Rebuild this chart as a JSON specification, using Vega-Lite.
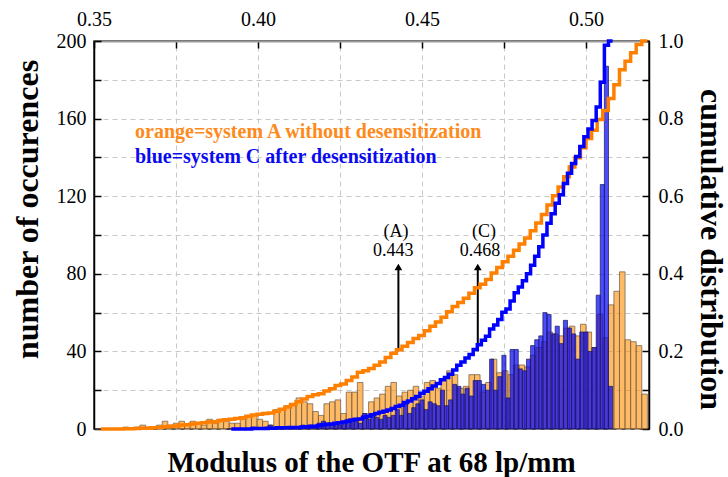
{
  "$schema": "https://vega.github.io/schema/vega-lite/v6.json",
  "width": 555,
  "height": 388,
  "autosize": "none",
  "padding": {"left": 94, "top": 41, "right": 79, "bottom": 48},
  "config": {
    "view": {"stroke": "#222", "strokeWidth": 1.5},
    "font": "Liberation Serif",
    "axis": {
      "labelFont": "Liberation Serif", "labelFontSize": 20, "labelColor": "#000",
      "titleFont": "Liberation Serif", "titleFontSize": 32, "titleFontWeight": "bold", "titleColor": "#000",
      "tickColor": "#000", "tickWidth": 1.5, "domainColor": "#000", "domainWidth": 1.5,
      "gridColor": "#c8c8c8", "gridDash": [5, 4], "gridWidth": 1
    }
  },
  "title": {"text": "Modulus of the OTF at 68 lp/mm", "orient": "bottom", "frame": "group", "anchor": "middle", "font": "Liberation Serif", "fontSize": 29, "fontWeight": "bold", "color": "#000", "offset": 10},
  "datasets": {
    "orange": [
      {"x":0.3504,"x1":0.3521,"y":0,"c":0},{"x":0.3521,"x1":0.3538,"y":0,"c":0},{"x":0.3538,"x1":0.3555,"y":0,"c":0},{"x":0.3555,"x1":0.3572,"y":0,"c":0},{"x":0.3572,"x1":0.3589,"y":0,"c":0},
      {"x":0.3589,"x1":0.3606,"y":1,"c":0.0005},{"x":0.3606,"x1":0.3623,"y":0,"c":0.0005},{"x":0.3623,"x1":0.364,"y":1,"c":0.001},{"x":0.364,"x1":0.3657,"y":2,"c":0.002},{"x":0.3657,"x1":0.3674,"y":1,"c":0.002},
      {"x":0.3674,"x1":0.3691,"y":1,"c":0.003},{"x":0.3691,"x1":0.3708,"y":2,"c":0.004},{"x":0.3708,"x1":0.3725,"y":4,"c":0.006},{"x":0.3725,"x1":0.3742,"y":2,"c":0.007},{"x":0.3742,"x1":0.3759,"y":3,"c":0.008},
      {"x":0.3759,"x1":0.3776,"y":4,"c":0.010},{"x":0.3776,"x1":0.3793,"y":2,"c":0.011},{"x":0.3793,"x1":0.381,"y":4,"c":0.013},{"x":0.381,"x1":0.3827,"y":3,"c":0.015},{"x":0.3827,"x1":0.3844,"y":2,"c":0.016},
      {"x":0.3844,"x1":0.3861,"y":5,"c":0.018},{"x":0.3861,"x1":0.3878,"y":3,"c":0.019},{"x":0.3878,"x1":0.3895,"y":5,"c":0.022},{"x":0.3895,"x1":0.3912,"y":4,"c":0.024},{"x":0.3912,"x1":0.3929,"y":3,"c":0.025},
      {"x":0.3929,"x1":0.3946,"y":3,"c":0.027},{"x":0.3946,"x1":0.3963,"y":5,"c":0.029},{"x":0.3963,"x1":0.398,"y":7,"c":0.033},{"x":0.398,"x1":0.3997,"y":7,"c":0.036},{"x":0.3997,"x1":0.4014,"y":5,"c":0.038},
      {"x":0.4014,"x1":0.4031,"y":4,"c":0.040},{"x":0.4031,"x1":0.4048,"y":2,"c":0.041},{"x":0.4048,"x1":0.4065,"y":10,"c":0.046},{"x":0.4065,"x1":0.4082,"y":10,"c":0.051},{"x":0.4082,"x1":0.4099,"y":12,"c":0.057},
      {"x":0.4099,"x1":0.4116,"y":12,"c":0.063},{"x":0.4116,"x1":0.4133,"y":16,"c":0.070},{"x":0.4133,"x1":0.415,"y":14,"c":0.077},{"x":0.415,"x1":0.4167,"y":13,"c":0.084},{"x":0.4167,"x1":0.4184,"y":9,"c":0.088},
      {"x":0.4184,"x1":0.4201,"y":7,"c":0.091},{"x":0.4201,"x1":0.4218,"y":13,"c":0.098},{"x":0.4218,"x1":0.4235,"y":14,"c":0.104},{"x":0.4235,"x1":0.4252,"y":15,"c":0.112},{"x":0.4252,"x1":0.4269,"y":8,"c":0.116},
      {"x":0.4269,"x1":0.4286,"y":19,"c":0.125},{"x":0.4286,"x1":0.4303,"y":19,"c":0.134},{"x":0.4303,"x1":0.432,"y":24,"c":0.146},{"x":0.432,"x1":0.4337,"y":8,"c":0.150},{"x":0.4337,"x1":0.4354,"y":14,"c":0.156},
      {"x":0.4354,"x1":0.4371,"y":16,"c":0.164},{"x":0.4371,"x1":0.4388,"y":18,"c":0.173},{"x":0.4388,"x1":0.4405,"y":22,"c":0.184},{"x":0.4405,"x1":0.4422,"y":24,"c":0.195},{"x":0.4422,"x1":0.4439,"y":17,"c":0.204},
      {"x":0.4439,"x1":0.4456,"y":19,"c":0.213},{"x":0.4456,"x1":0.4473,"y":20,"c":0.223},{"x":0.4473,"x1":0.449,"y":22,"c":0.233},{"x":0.449,"x1":0.4507,"y":17,"c":0.241},{"x":0.4507,"x1":0.4524,"y":24,"c":0.253},
      {"x":0.4524,"x1":0.4541,"y":25,"c":0.265},{"x":0.4541,"x1":0.4558,"y":21,"c":0.276},{"x":0.4558,"x1":0.4575,"y":25,"c":0.288},{"x":0.4575,"x1":0.4592,"y":30,"c":0.302},{"x":0.4592,"x1":0.4609,"y":28,"c":0.316},
      {"x":0.4609,"x1":0.4626,"y":21,"c":0.326},{"x":0.4626,"x1":0.4643,"y":22,"c":0.337},{"x":0.4643,"x1":0.466,"y":28,"c":0.350},{"x":0.466,"x1":0.4677,"y":28,"c":0.364},{"x":0.4677,"x1":0.4694,"y":19,"c":0.373},
      {"x":0.4694,"x1":0.4711,"y":24,"c":0.385},{"x":0.4711,"x1":0.4728,"y":36,"c":0.402},{"x":0.4728,"x1":0.4745,"y":29,"c":0.416},{"x":0.4745,"x1":0.4762,"y":30,"c":0.431},{"x":0.4762,"x1":0.4779,"y":28,"c":0.445},
      {"x":0.4779,"x1":0.4796,"y":33,"c":0.461},{"x":0.4796,"x1":0.4813,"y":33,"c":0.477},{"x":0.4813,"x1":0.483,"y":32,"c":0.492},{"x":0.483,"x1":0.4847,"y":38,"c":0.511},{"x":0.4847,"x1":0.4864,"y":42,"c":0.531},
      {"x":0.4864,"x1":0.4881,"y":45,"c":0.553},{"x":0.4881,"x1":0.4898,"y":50,"c":0.577},{"x":0.4898,"x1":0.4915,"y":49,"c":0.601},{"x":0.4915,"x1":0.4932,"y":48,"c":0.624},{"x":0.4932,"x1":0.4949,"y":52,"c":0.650},
      {"x":0.4949,"x1":0.4966,"y":53,"c":0.675},{"x":0.4966,"x1":0.4983,"y":48,"c":0.699},{"x":0.4983,"x1":0.5,"y":54,"c":0.725},{"x":0.5,"x1":0.5017,"y":50,"c":0.749},{"x":0.5017,"x1":0.5034,"y":42,"c":0.770},
      {"x":0.5034,"x1":0.5051,"y":59,"c":0.798},{"x":0.5051,"x1":0.5068,"y":47,"c":0.821},{"x":0.5068,"x1":0.5085,"y":64,"c":0.852},{"x":0.5085,"x1":0.5102,"y":71,"c":0.887},{"x":0.5102,"x1":0.5119,"y":81,"c":0.926},
      {"x":0.5119,"x1":0.5136,"y":46,"c":0.948},{"x":0.5136,"x1":0.5153,"y":45,"c":0.970},{"x":0.5153,"x1":0.517,"y":43,"c":0.991},{"x":0.517,"x1":0.5187,"y":18,"c":1.0}
    ],
    "blue": [
      {"x":0.3906,"x1":0.39185,"y":0,"c":0},{"x":0.39185,"x1":0.3931,"y":0,"c":0},{"x":0.3931,"x1":0.39435,"y":0,"c":0},{"x":0.39435,"x1":0.3956,"y":0,"c":0},{"x":0.3956,"x1":0.39685,"y":0,"c":0},
      {"x":0.39685,"x1":0.3981,"y":0,"c":0},{"x":0.3981,"x1":0.39935,"y":1,"c":0.001},{"x":0.39935,"x1":0.4006,"y":0,"c":0.001},{"x":0.4006,"x1":0.40185,"y":0,"c":0.001},{"x":0.40185,"x1":0.4031,"y":1,"c":0.001},
      {"x":0.4031,"x1":0.40435,"y":2,"c":0.002},{"x":0.40435,"x1":0.4056,"y":0,"c":0.002},{"x":0.4056,"x1":0.40685,"y":1,"c":0.003},{"x":0.40685,"x1":0.4081,"y":0,"c":0.003},{"x":0.4081,"x1":0.40935,"y":1,"c":0.003},
      {"x":0.40935,"x1":0.4106,"y":1,"c":0.004},{"x":0.4106,"x1":0.41185,"y":0,"c":0.004},{"x":0.41185,"x1":0.4131,"y":1,"c":0.004},{"x":0.4131,"x1":0.41435,"y":2,"c":0.005},{"x":0.41435,"x1":0.4156,"y":1,"c":0.006},
      {"x":0.4156,"x1":0.41685,"y":2,"c":0.007},{"x":0.41685,"x1":0.4181,"y":1,"c":0.007},{"x":0.4181,"x1":0.41935,"y":3,"c":0.009},{"x":0.41935,"x1":0.4206,"y":4,"c":0.011},{"x":0.4206,"x1":0.42185,"y":3,"c":0.012},
      {"x":0.42185,"x1":0.4231,"y":2,"c":0.013},{"x":0.4231,"x1":0.42435,"y":3,"c":0.015},{"x":0.42435,"x1":0.4256,"y":2,"c":0.016},{"x":0.4256,"x1":0.42685,"y":4,"c":0.018},{"x":0.42685,"x1":0.4281,"y":5,"c":0.020},
      {"x":0.4281,"x1":0.42935,"y":5,"c":0.023},{"x":0.42935,"x1":0.4306,"y":4,"c":0.025},{"x":0.4306,"x1":0.43185,"y":3,"c":0.026},{"x":0.43185,"x1":0.4331,"y":8,"c":0.030},{"x":0.4331,"x1":0.43435,"y":5,"c":0.033},
      {"x":0.43435,"x1":0.4356,"y":8,"c":0.037},{"x":0.4356,"x1":0.43685,"y":6,"c":0.040},{"x":0.43685,"x1":0.4381,"y":5,"c":0.043},{"x":0.4381,"x1":0.43935,"y":7,"c":0.046},{"x":0.43935,"x1":0.4406,"y":6,"c":0.049},
      {"x":0.4406,"x1":0.44185,"y":7,"c":0.053},{"x":0.44185,"x1":0.4431,"y":10,"c":0.058},{"x":0.4431,"x1":0.44435,"y":7,"c":0.061},{"x":0.44435,"x1":0.4456,"y":13,"c":0.068},{"x":0.4456,"x1":0.44685,"y":8,"c":0.072},
      {"x":0.44685,"x1":0.4481,"y":11,"c":0.078},{"x":0.4481,"x1":0.44935,"y":13,"c":0.084},{"x":0.44935,"x1":0.4506,"y":15,"c":0.092},{"x":0.4506,"x1":0.45185,"y":10,"c":0.097},{"x":0.45185,"x1":0.4531,"y":14,"c":0.104},
      {"x":0.4531,"x1":0.45435,"y":13,"c":0.111},{"x":0.45435,"x1":0.4556,"y":12,"c":0.117},{"x":0.4556,"x1":0.45685,"y":20,"c":0.127},{"x":0.45685,"x1":0.4581,"y":12,"c":0.133},{"x":0.4581,"x1":0.45935,"y":15,"c":0.141},
      {"x":0.45935,"x1":0.4606,"y":23,"c":0.152},{"x":0.4606,"x1":0.46185,"y":22,"c":0.164},{"x":0.46185,"x1":0.4631,"y":18,"c":0.173},{"x":0.4631,"x1":0.46435,"y":21,"c":0.183},{"x":0.46435,"x1":0.4656,"y":17,"c":0.192},
      {"x":0.4656,"x1":0.46685,"y":25,"c":0.205},{"x":0.46685,"x1":0.4681,"y":25,"c":0.217},{"x":0.4681,"x1":0.46935,"y":23,"c":0.229},{"x":0.46935,"x1":0.4706,"y":20,"c":0.239},{"x":0.4706,"x1":0.47185,"y":36,"c":0.258},
      {"x":0.47185,"x1":0.4731,"y":20,"c":0.268},{"x":0.4731,"x1":0.47435,"y":27,"c":0.282},{"x":0.47435,"x1":0.4756,"y":38,"c":0.301},{"x":0.4756,"x1":0.47685,"y":16,"c":0.309},{"x":0.47685,"x1":0.4781,"y":41,"c":0.330},
      {"x":0.4781,"x1":0.47935,"y":41,"c":0.351},{"x":0.47935,"x1":0.4806,"y":31,"c":0.366},{"x":0.4806,"x1":0.48185,"y":30,"c":0.382},{"x":0.48185,"x1":0.4831,"y":36,"c":0.400},{"x":0.4831,"x1":0.48435,"y":43,"c":0.422},
      {"x":0.48435,"x1":0.4856,"y":46,"c":0.445},{"x":0.4856,"x1":0.48685,"y":48,"c":0.470},{"x":0.48685,"x1":0.4881,"y":60,"c":0.500},{"x":0.4881,"x1":0.48935,"y":59,"c":0.530},{"x":0.48935,"x1":0.4906,"y":49,"c":0.555},
      {"x":0.4906,"x1":0.49185,"y":53,"c":0.582},{"x":0.49185,"x1":0.4931,"y":44,"c":0.604},{"x":0.4931,"x1":0.49435,"y":56,"c":0.633},{"x":0.49435,"x1":0.4956,"y":52,"c":0.659},{"x":0.4956,"x1":0.49685,"y":49,"c":0.684},
      {"x":0.49685,"x1":0.4981,"y":36,"c":0.702},{"x":0.4981,"x1":0.49935,"y":50,"c":0.728},{"x":0.49935,"x1":0.5006,"y":50,"c":0.753},{"x":0.5006,"x1":0.50185,"y":40,"c":0.773},{"x":0.50185,"x1":0.5031,"y":42,"c":0.795},
      {"x":0.5031,"x1":0.50435,"y":69,"c":0.830},{"x":0.50435,"x1":0.5056,"y":126,"c":0.894},{"x":0.5056,"x1":0.50685,"y":187,"c":0.989},{"x":0.50685,"x1":0.5081,"y":22,"c":1.0}
    ],
    "notes": [
      {"t":"orange=system A without desensitization","x":0.3625,"y":153.2,"g":"A"},
      {"t":"blue=system C after desensitization","x":0.3625,"y":140.4,"g":"C"}
    ],
    "labels": [
      {"t":"(A)","x":0.4421,"y":101.6},
      {"t":"0.443","x":0.4412,"y":91.5},
      {"t":"(C)","x":0.4689,"y":101.6},
      {"t":"0.468","x":0.4677,"y":91.5}
    ],
    "arrows": [
      {"x":0.4428,"y":40,"y1":83.5},
      {"x":0.4670,"y":40,"y1":83.5}
    ],
    "heads": [
      {"x":0.4428,"y":83.5},
      {"x":0.4670,"y":83.5}
    ]
  },
  "layer": [
    {
      "encoding": {
        "x": {"field": "x", "type": "quantitative", "scale": {"domain": [0.35, 0.5192], "nice": false, "zero": false},
          "axis": {"orient": "top", "values": [0.35, 0.375, 0.4, 0.425, 0.45, 0.475, 0.5], "labelExpr": "round(datum.value*1000) % 50 == 0 ? format(datum.value, '.2f') : ''", "grid": true, "tickSize": -7, "labelPadding": 19, "title": null, "domainColor": "#999", "domainWidth": 2, "labelFlush": false}},
        "y": {"field": "y", "type": "quantitative", "scale": {"domain": [0, 200], "nice": false},
          "axis": {"orient": "left", "values": [0, 20, 40, 60, 80, 100, 120, 140, 160, 180, 200], "labelExpr": "datum.value % 40 == 0 ? datum.label : ''", "grid": true, "tickSize": -7, "labelPadding": 15, "title": "number of occurences", "titleX": -67, "titleY": 168, "titleAngle": -90, "titleBaseline": "middle", "titleAlign": "center"}}
      },
      "layer": [
        {
          "data": {"name": "orange"},
          "mark": {"type": "bar", "fill": "#FF8C00", "fillOpacity": 0.6, "stroke": "#6e5a48", "strokeWidth": 0.9, "strokeOpacity": 0.8},
          "encoding": {"x2": {"field": "x1"}, "y2": {"datum": 0}}
        },
        {
          "data": {"name": "blue"},
          "mark": {"type": "bar", "fill": "#0000FF", "fillOpacity": 0.7, "stroke": "#1a1a55", "strokeWidth": 0.9, "strokeOpacity": 0.8},
          "encoding": {"x2": {"field": "x1"}, "y2": {"datum": 0}}
        },
        {
          "data": {"name": "notes"},
          "mark": {"type": "text", "align": "left", "baseline": "middle", "font": "Liberation Serif", "fontSize": 20, "fontWeight": "bold"},
          "encoding": {
            "text": {"field": "t"},
            "color": {"field": "g", "type": "nominal", "scale": {"domain": ["A", "C"], "range": ["#FF8A1C", "#0A0AF0"]}, "legend": null}
          }
        },
        {
          "data": {"name": "labels"},
          "mark": {"type": "text", "align": "center", "baseline": "middle", "font": "Liberation Serif", "fontSize": 18, "color": "#000"},
          "encoding": {"text": {"field": "t"}}
        },
        {
          "data": {"name": "arrows"},
          "mark": {"type": "rule", "color": "#000", "strokeWidth": 2},
          "encoding": {"y2": {"field": "y1"}}
        },
        {
          "data": {"name": "heads"},
          "mark": {"type": "point", "shape": "triangle-up", "filled": true, "color": "#000", "size": 60, "opacity": 1}
        }
      ]
    },
    {
      "encoding": {
        "x": {"field": "x1", "type": "quantitative",
          "axis": {"orient": "top", "values": [0.35, 0.375, 0.4, 0.425, 0.45, 0.475, 0.5], "labelExpr": "round(datum.value*1000) % 50 == 0 ? format(datum.value, '.2f') : ''", "grid": true, "tickSize": -7, "labelPadding": 19, "title": null, "domainColor": "#999", "domainWidth": 2, "labelFlush": false}},
        "y": {"field": "c", "type": "quantitative", "scale": {"domain": [0, 1], "nice": false},
          "axis": {"orient": "right", "values": [0, 0.1, 0.2, 0.3, 0.4, 0.5, 0.6, 0.7, 0.8, 0.9, 1.0], "labelExpr": "round(datum.value*10) % 2 == 0 ? format(datum.value, '.1f') : ''", "grid": false, "tickSize": -7, "labelPadding": 16, "title": "cumulative distribution", "titleX": 61, "titleY": 208, "titleAngle": 90, "titleBaseline": "middle", "titleAlign": "center"}}
      },
      "layer": [
        {
          "data": {"name": "orange"},
          "mark": {"type": "line", "interpolate": "step-before", "color": "#FF8000", "strokeWidth": 3.5}
        },
        {
          "data": {"name": "blue"},
          "mark": {"type": "line", "interpolate": "step-before", "color": "#0000FF", "strokeWidth": 3.5}
        }
      ]
    }
  ],
  "resolve": {"scale": {"y": "independent"}}
}
